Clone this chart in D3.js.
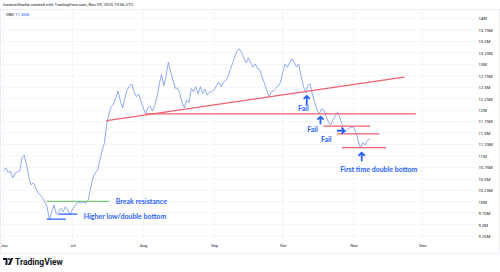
<!DOCTYPE html>
<html>
<head>
<meta charset="utf-8">
<script src="https://cdn.jsdelivr.net/npm/d3@7"></script>
<style>
  html, body { margin: 0; padding: 0; background: #fff; }
  svg { display: block; font-family: Roboto, "Noto Sans", sans-serif; }
</style>
</head>
<body>
<div id="chart"></div>
<script>
// OBV daily values (millions), one per day starting at startDate
const startDate = "2025-06-01";
const obvValues = [
  10.69, 10.74, 10.63, 10.67, 10.52, 10.63, 10.65, 10.67, 10.96, 11.02,
  10.80, 10.54, 10.37, 10.41, 10.30, 10.19, 10.15, 10.08, 9.99, 9.89,
  9.60, 9.78, 9.93, 9.73, 9.78, 9.86, 9.78, 9.89, 9.82, 9.71,
  9.82, 9.91, 9.97, 9.99, 9.97, 9.99, 9.97, 10.04, 10.30, 10.52,
  10.63, 10.69, 10.89, 11.11, 11.28, 11.68, 11.92, 12.07, 12.13, 12.27,
  12.42, 12.20, 12.05, 12.27, 12.44, 12.53, 12.57, 12.40, 12.29, 12.35,
  12.20, 12.05, 11.92, 12.05, 12.09, 11.98, 12.09, 12.29, 12.57, 12.79,
  12.53, 12.75, 13.05, 12.83, 12.66, 12.48, 12.48, 12.37, 12.16, 12.05,
  12.22, 12.16, 12.48, 12.40, 12.51, 12.35, 12.51, 12.37, 12.46, 12.33,
  12.40, 12.40, 12.44, 12.53, 12.61, 12.51, 12.61, 12.64, 12.72, 12.88,
  13.01, 13.16, 13.29, 13.34, 13.25, 13.14, 13.03, 13.14, 13.03, 12.94,
  13.01, 12.90, 12.88, 12.72, 12.59, 12.44, 12.29, 12.40, 12.42, 12.48,
  12.53, 12.61, 12.83, 13.01, 12.94, 13.03, 13.12, 13.05, 12.94, 13.01,
  12.75, 12.53, 12.37, 12.55, 12.57, 12.33, 12.16, 12.00, 11.92, 12.03,
  12.00, 11.85, 11.74, 11.68, 11.79, 11.87, 11.96, 11.83, 11.68, 11.52,
  11.55, 11.61, 11.63, 11.63, 11.52, 11.33, 11.17, 11.30, 11.24, 11.35,
  11.36
];

const monthLabels = ["Jun", "Jul", "Aug", "Sep", "Oct", "Nov", "Dec"];
const monthDates = ["2025-06-01", "2025-07-01", "2025-08-01", "2025-09-01", "2025-10-01", "2025-11-01", "2025-12-01"];
const yTickValues = [9.25, 9.5, 9.75, 10, 10.25, 10.5, 10.75, 11, 11.25, 11.5, 11.75,
                     12, 12.25, 12.5, 12.75, 13, 13.25, 13.5, 13.75, 14];

// drawn lines: [startDate, startValue, endDate, endValue]
const redLines = [
  ["2025-07-16", 11.77, "2025-11-23", 12.72],
  ["2025-08-02", 11.92, "2025-11-28", 11.92],
  ["2025-10-19", 11.65, "2025-11-08", 11.65],
  ["2025-10-25", 11.48, "2025-11-12", 11.48],
  ["2025-10-27", 11.18, "2025-11-15", 11.18]
];
const greenLines = [["2025-06-20", 10.01, "2025-07-17", 10.01]];
const blueLines = [
  ["2025-06-20", 9.62, "2025-06-28", 9.62],
  ["2025-06-25", 9.73, "2025-07-03", 9.73]
];
// arrows: [tailDate, tailValue, tipDate, tipValue]
const arrows = [
  ["2025-10-11T12:00:00Z", 12.12, "2025-10-11T12:00:00Z", 12.31],
  ["2025-10-17T12:00:00Z", 11.71, "2025-10-17T12:00:00Z", 11.86],
  ["2025-10-25T00:00:00Z", 11.55, "2025-10-28T00:00:00Z", 11.55],
  ["2025-11-04T12:00:00Z", 10.90, "2025-11-04T12:00:00Z", 11.07]
];
// notes: [text, date, value, anchor]
const notes = [
  ["Fail", "2025-10-10", 12.03, "middle"],
  ["Fail", "2025-10-14", 11.57, "middle"],
  ["Fail", "2025-10-20", 11.35, "middle"],
  ["First time double bottom", "2025-11-12", 10.71, "middle"],
  ["Break resistance", "2025-07-20", 10.01, "start"],
  ["Higher low/double bottom", "2025-07-06", 9.67, "start"]
];

const width = 500, height = 272;
const paneRight = 475;
const parse = d3.isoParse;

const data = obvValues.map((v, i) => ({ date: d3.utcDay.offset(parse(startDate), i), value: v }));

const svg = d3.select("#chart").append("svg")
  .attr("width", width)
  .attr("height", height);

const x = d3.scaleUtc()
  .domain([parse(monthDates[0]), parse(monthDates[monthDates.length - 1])])
  .range([3.67, 422.3]);

const y = d3.scaleLinear()
  .domain([9.25, 13.75])
  .range([236.1, 30]);

// header
svg.append("text")
  .attr("x", 3).attr("y", 6)
  .attr("font-size", 4.2)
  .attr("fill", "#131722")
  .text("IncomeSharks created with TradingView.com, Nov 09, 2025 19:56 UTC");

// pane frame
svg.append("rect")
  .attr("x", 0.5).attr("y", 9.5)
  .attr("width", width - 1).attr("height", 244)
  .attr("fill", "none")
  .attr("stroke", "#e0e3eb")
  .attr("stroke-width", 0.6);

// grid
svg.append("g")
  .selectAll("line")
  .data(yTickValues)
  .join("line")
  .attr("x1", 1).attr("x2", paneRight)
  .attr("y1", d => y(d)).attr("y2", d => y(d))
  .attr("stroke", "#f0f3fa")
  .attr("stroke-width", 0.8);

svg.append("g")
  .selectAll("line")
  .data(monthDates)
  .join("line")
  .attr("x1", d => x(parse(d))).attr("x2", d => x(parse(d)))
  .attr("y1", 10).attr("y2", 241)
  .attr("stroke", "#f0f3fa")
  .attr("stroke-width", 0.8);

// y axis labels
const fmt = v => d3.format(".2~f")(v) + "M";
const yAxis = svg.append("g")
  .attr("transform", `translate(${paneRight + 2},0)`)
  .call(d3.axisRight(y).tickValues(yTickValues).tickSize(0).tickPadding(1.5).tickFormat(fmt));
yAxis.select(".domain").remove();
yAxis.selectAll("text")
  .attr("font-size", 4.2)
  .attr("font-family", "Roboto, sans-serif")
  .attr("fill", "#131722");

// x axis labels
const xAxis = svg.append("g")
  .attr("transform", "translate(0,243)")
  .call(d3.axisBottom(x)
    .tickValues(monthDates.map(parse))
    .tickSize(0)
    .tickPadding(1.5)
    .tickFormat((d, i) => monthLabels[i]));
xAxis.select(".domain").remove();
xAxis.selectAll("text")
  .attr("font-size", 4.2)
  .attr("font-family", "Roboto, sans-serif")
  .attr("fill", "#131722");

// legend
const legend = svg.append("text")
  .attr("x", 6).attr("y", 15.5)
  .attr("font-size", 4.2);
legend.append("tspan").attr("fill", "#131722").text("OBV ");
legend.append("tspan").attr("fill", "#2962ff").text("11.36M");

// OBV line
const line = d3.line()
  .x(d => x(d.date))
  .y(d => y(d.value));

svg.append("path")
  .datum(data)
  .attr("d", line)
  .attr("fill", "none")
  .attr("stroke", "#86a2f1")
  .attr("stroke-width", 0.9)
  .attr("stroke-linejoin", "round");

// drawings
function drawSegments(list, color, w) {
  svg.append("g")
    .selectAll("line")
    .data(list)
    .join("line")
    .attr("x1", d => x(parse(d[0]))).attr("y1", d => y(d[1]))
    .attr("x2", d => x(parse(d[2]))).attr("y2", d => y(d[3]))
    .attr("stroke", color)
    .attr("stroke-width", w)
    .attr("stroke-linecap", "round");
}
drawSegments(redLines, "#f0616f", 1.2);
drawSegments(greenLines, "#79c97b", 1.2);
drawSegments(blueLines, "#2962ff", 1.1);

// arrows
svg.append("g")
  .selectAll("path")
  .data(arrows)
  .join("path")
  .attr("d", d => {
    const x0 = x(parse(d[0])), y0 = y(d[1]);
    const x1 = x(parse(d[2])), y1 = y(d[3]);
    const a = Math.atan2(y1 - y0, x1 - x0);
    const h = 3.6;
    const l1 = [x1 - h * Math.cos(a - 0.8), y1 - h * Math.sin(a - 0.8)];
    const l2 = [x1 - h * Math.cos(a + 0.8), y1 - h * Math.sin(a + 0.8)];
    return `M${x0},${y0}L${x1},${y1}M${l1}L${x1},${y1}L${l2}`;
  })
  .attr("fill", "none")
  .attr("stroke", "#2962ff")
  .attr("stroke-width", 1.8)
  .attr("stroke-linecap", "round")
  .attr("stroke-linejoin", "round");

// text notes
svg.append("g")
  .selectAll("text")
  .data(notes)
  .join("text")
  .attr("x", d => x(parse(d[1])))
  .attr("y", d => y(d[2]))
  .attr("dy", "0.35em")
  .attr("text-anchor", d => d[3])
  .attr("font-family", "Lato, sans-serif")
  .attr("font-weight", 700)
  .attr("font-size", 7)
  .attr("fill", "#2962ff")
  .text(d => d[0]);

// TradingView logo
const logo = svg.append("g").attr("transform", "translate(3,258)");
logo.append("path")
  .attr("d", "M0,0H4.5V7H2.5V2H0Z")
  .attr("fill", "#131722");
logo.append("circle")
  .attr("cx", 6).attr("cy", 1).attr("r", 1)
  .attr("fill", "#131722");
logo.append("path")
  .attr("d", "M7.8,0H10.2L7.4,7H5Z")
  .attr("fill", "#131722");
logo.append("text")
  .attr("x", 12).attr("y", 7)
  .attr("font-family", "Roboto, sans-serif")
  .attr("font-weight", 700)
  .attr("font-size", 8.5)
  .attr("fill", "#131722")
  .text("TradingView");
</script>
</body>
</html>
